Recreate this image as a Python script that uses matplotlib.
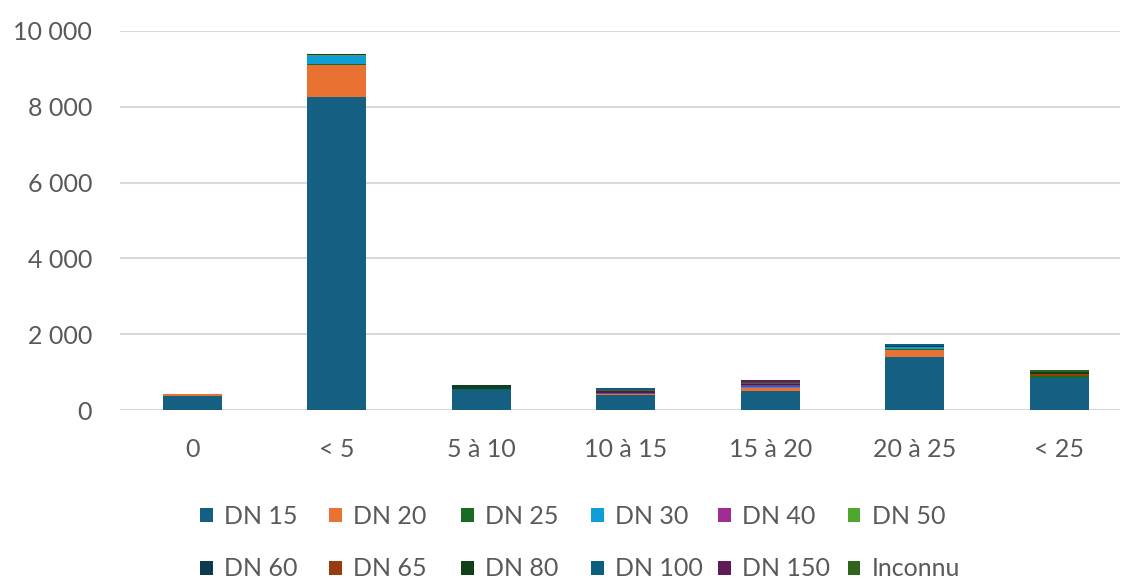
import matplotlib.pyplot as plt
import numpy as np

plt.rcParams['font.family'] = ['Lato', 'DejaVu Sans']

# categories (age classes) and stacked series per diameter
categories = ['0', '< 5', '5 à 10', '10 à 15', '15 à 20', '20 à 25', '< 25']
series_names = ['DN 15', 'DN 20', 'DN 25', 'DN 30', 'DN 40', 'DN 50',
                'DN 60', 'DN 65', 'DN 80', 'DN 100', 'DN 150', 'Inconnu']

dn15 = [370, 8260, 520, 390, 510, 1400, 850]
dn20 = [40, 840, 0, 30, 70, 170, 0]
dn25 = [0, 40, 40, 0, 0, 50, 40]
dn30 = [0, 200, 0, 0, 20, 30, 0]
dn40 = [0, 5, 0, 40, 50, 0, 0]
dn50 = [0, 30, 0, 0, 10, 0, 20]
dn60 = [0, 10, 50, 50, 20, 50, 0]
dn65 = [0, 0, 0, 30, 20, 0, 50]
dn80 = [0, 0, 40, 0, 0, 0, 40]
dn100 = [0, 20, 0, 40, 30, 50, 0]
dn150 = [0, 0, 0, 0, 50, 0, 0]
inconnu = [0, 0, 0, 0, 0, 0, 60]

colors = ['#156082', '#E97132', '#196B24', '#0F9ED5', '#A02B93', '#4EA72E',
          '#0D3A4E', '#983D12', '#0F4016', '#0A5F80', '#601A58', '#2F641C']

data = [dn15, dn20, dn25, dn30, dn40, dn50, dn60, dn65, dn80, dn100, dn150, inconnu]

fig = plt.figure(figsize=(11.22, 5.81), dpi=100)
ax = fig.add_axes([120 / 1122, 1 - 410 / 581, 1000 / 1122, 379 / 581])

x = np.arange(len(categories))
bottom = np.zeros(len(categories))
handles = []
for name, vals, c in zip(series_names, data, colors):
    bars = ax.bar(x, vals, width=0.41, bottom=bottom, color=c, label=name,
                  linewidth=0, zorder=3)
    handles.append(bars)
    bottom += np.array(vals)

ax.set_ylim(0, 10000)
ax.set_xlim(-0.5, 6.42)
ax.set_yticks(np.arange(0, 10001, 2000))
ax.set_yticklabels([f'{v:,}'.replace(',', ' ') for v in range(0, 10001, 2000)])
ax.set_xticks(x)
ax.set_xticklabels(categories)
ax.tick_params(axis='both', length=0, labelsize=18, labelcolor='#595959')
ax.tick_params(axis='x', pad=20)
ax.tick_params(axis='y', pad=20)
ax.grid(axis='y', color='#D9D9D9', linewidth=1.5, zorder=0)
for s in ax.spines.values():
    s.set_visible(False)

# legend: 2 rows x 6 evenly spaced entries, one small legend per entry
col_x = [200, 329, 461, 591, 718, 848]
row_y = [516, 569]
for i, (h, name) in enumerate(zip(handles, series_names)):
    r, c = divmod(i, 6)
    fig.legend([h], [name], loc='center left',
               bbox_to_anchor=(col_x[c] / 1122, 1 - row_y[r] / 581),
               frameon=False, borderpad=0, borderaxespad=0, fontsize=18,
               labelcolor='#595959', handlelength=0.5, handleheight=0.5,
               handletextpad=0.45)

fig.savefig('out.png', dpi=100)
